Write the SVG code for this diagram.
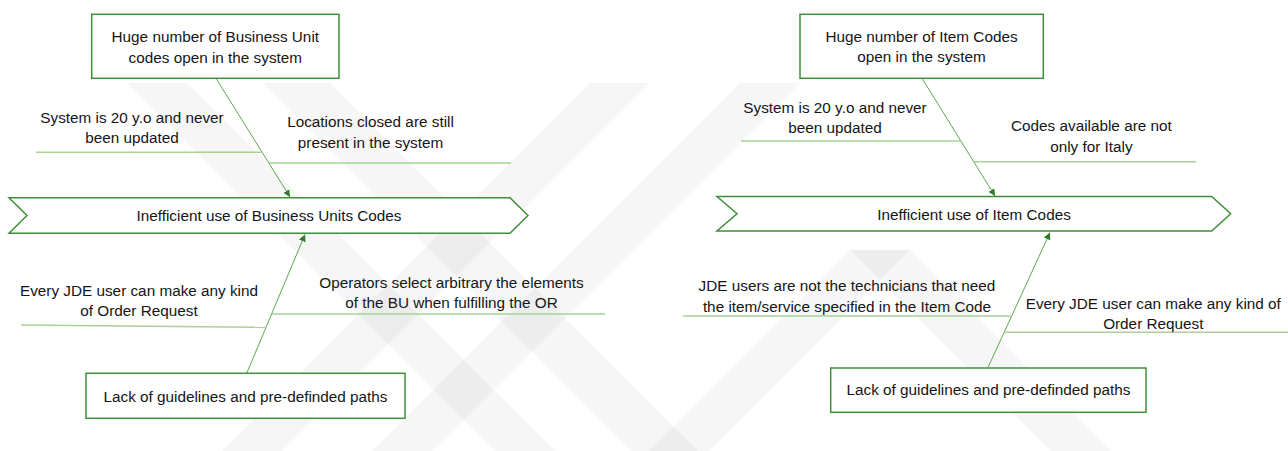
<svg xmlns="http://www.w3.org/2000/svg" width="1288" height="451" viewBox="0 0 1288 451">
  <defs>
    <marker id="arrow" markerUnits="userSpaceOnUse" markerWidth="8" markerHeight="7" refX="7" refY="3.5" orient="auto">
      <path d="M0,0 L7,3.5 L0,7 z" fill="#2f7d2a"/>
    </marker>
    <style>
      .box { fill: #ffffff; stroke: #3f8f3a; stroke-width: 1.5; }
      .spine { fill: #ffffff; stroke: #3f8f3a; stroke-width: 1.5; }
      .label { font-family: "Liberation Sans", Arial, sans-serif; font-size: 15.3px; fill: #151515; text-anchor: middle; }
      .diag { stroke: #5fa84f; stroke-width: 1; fill: none; }
      .branch { stroke: #a9d293; stroke-width: 1.4; fill: none; }
      .wm { fill: #000000; fill-opacity: 0.035; }
    </style>
  </defs>

  <rect width="1288" height="451" fill="#ffffff"/>

  <!-- faint background stripes -->
  <g id="background">
    <polygon class="wm" points="127,83 187,83 555,451 495,451"/>
    <polygon class="wm" points="263,83 330,83 698,451 631,451"/>
    <polygon class="wm" points="590,83 650,83 282,451 222,451"/>
    <polygon class="wm" points="740,83 800,83 432,451 372,451"/>
    <polygon class="wm" points="850,250 910,250 1111,451 1051,451"/>
    <polygon class="wm" points="850,250 910,250 709,451 649,451"/>
  </g>

  <!-- connectors and branch lines -->
  <g id="connectors">
    <line class="diag" x1="216" y1="78.3" x2="290" y2="197" marker-end="url(#arrow)"/>
    <line class="diag" x1="246.7" y1="373.3" x2="305" y2="234.5" marker-end="url(#arrow)"/>
    <line class="branch" x1="36" y1="152.3" x2="261.5" y2="152.3"/>
    <line class="branch" x1="269" y1="163" x2="511" y2="163"/>
    <line class="branch" x1="21" y1="325" x2="266" y2="327.3"/>
    <line class="branch" x1="272" y1="314" x2="605" y2="314"/>

    <line class="diag" x1="922" y1="78.3" x2="995" y2="196" marker-end="url(#arrow)"/>
    <line class="diag" x1="988" y1="367.5" x2="1050" y2="232.5" marker-end="url(#arrow)"/>
    <line class="branch" x1="741" y1="141" x2="960.7" y2="141"/>
    <line class="branch" x1="973.5" y1="161.7" x2="1196" y2="161.7"/>
    <line class="branch" x1="683" y1="316" x2="1012" y2="316"/>
    <line class="branch" x1="1004.5" y1="332.3" x2="1288" y2="332.3"/>
  </g>

  <!-- Business Unit codes fishbone -->
  <g id="bu-effect">
    <polygon class="spine" points="9,197.7 510,197.7 528,215.5 510,233.3 9,233.3 27,215.5"/>
    <text class="label" x="269" y="221">Inefficient use of Business Units Codes</text>
  </g>
  <g id="bu-cause-top">
    <rect class="box" x="91.7" y="14.3" width="247.3" height="64"/>
    <text class="label" x="215.3" y="42">Huge number of Business Unit</text>
    <text class="label" x="215.3" y="62.5">codes open in the system</text>
  </g>
  <g id="bu-sub-age">
    <text class="label" x="132" y="123">System is 20 y.o and never</text>
    <text class="label" x="132" y="143">been updated</text>
  </g>
  <g id="bu-sub-locations">
    <text class="label" x="370.5" y="127">Locations closed are still</text>
    <text class="label" x="370.5" y="148">present in the system</text>
  </g>
  <g id="bu-sub-users">
    <text class="label" x="139" y="296">Every JDE user can make any kind</text>
    <text class="label" x="139" y="316">of Order Request</text>
  </g>
  <g id="bu-sub-operators">
    <text class="label" x="451.5" y="287.5">Operators select arbitrary the elements</text>
    <text class="label" x="451.5" y="307.5">of the BU when fulfilling the OR</text>
  </g>
  <g id="bu-cause-bottom">
    <rect class="box" x="86" y="373.3" width="319" height="45"/>
    <text class="label" x="245.5" y="402">Lack of guidelines and pre-definded paths</text>
  </g>

  <!-- Item codes fishbone -->
  <g id="item-effect">
    <polygon class="spine" points="717,196.5 1211.7,196.5 1230.7,213.7 1211.7,231 717,231 737,213.7"/>
    <text class="label" x="974" y="219.5">Inefficient use of Item Codes</text>
  </g>
  <g id="item-cause-top">
    <rect class="box" x="800" y="14.3" width="243.3" height="64"/>
    <text class="label" x="921.5" y="42">Huge number of Item Codes</text>
    <text class="label" x="921.5" y="62">open in the system</text>
  </g>
  <g id="item-sub-age">
    <text class="label" x="835" y="113">System is 20 y.o and never</text>
    <text class="label" x="835" y="133">been updated</text>
  </g>
  <g id="item-sub-country">
    <text class="label" x="1091.4" y="131">Codes available are not</text>
    <text class="label" x="1091.4" y="152">only for Italy</text>
  </g>
  <g id="item-sub-technicians">
    <text class="label" x="847" y="291">JDE users are not the technicians that need</text>
    <text class="label" x="847" y="312">the item/service specified in the Item Code</text>
  </g>
  <g id="item-sub-users">
    <text class="label" x="1153.3" y="308.5">Every JDE user can make any kind of</text>
    <text class="label" x="1153.3" y="328.5">Order Request</text>
  </g>
  <g id="item-cause-bottom">
    <rect class="box" x="830.7" y="368" width="315.3" height="44.3"/>
    <text class="label" x="988.5" y="395">Lack of guidelines and pre-definded paths</text>
  </g>
</svg>
